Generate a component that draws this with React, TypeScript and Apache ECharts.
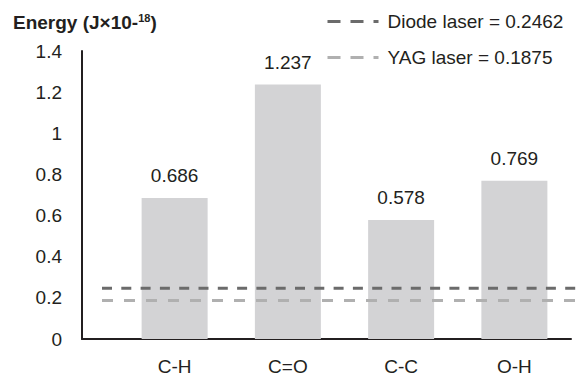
import React, { useEffect, useRef } from "react";
import * as echarts from "echarts";

const categories = ["C-H", "C=O", "C-C", "O-H"];
const energies = [0.686, 1.237, 0.578, 0.769];
const laserNames = ["Diode laser", "YAG laser"];
const laserValues = [0.2462, 0.1875];
const laserColors = ["#6b6b6b", "#b0b0b0"];
const yTicks = { min: 0, max: 1.4, interval: 0.2 };

const FONT = "'Liberation Sans', Arial, Helvetica, sans-serif";
const TEXT = "#231f20";
const FS = 19;

export default function App() {
  const ref = useRef<HTMLDivElement>(null);
  useEffect(() => {
    if (!ref.current) return;
    const chart = echarts.init(ref.current, null, { renderer: "svg" });
    const top = 51;
    const bottom = 40;
    const laserSeries = laserNames.map((n, i) => ({
      name: `${n} = ${laserValues[i]}`,
      type: "line",
      xAxisIndex: 2,
      yAxisIndex: 2,
      symbol: "none",
      silent: true,
      data: [
        [0, laserValues[i]],
        [1, laserValues[i]],
      ],
      lineStyle: {
        color: laserColors[i],
        width: 3,
        type: i === 0 ? [10, 9.3] : [11, 11],
      },
      itemStyle: { color: laserColors[i] },
    }));
    chart.setOption({
      animation: false,
      textStyle: { fontFamily: FONT, color: TEXT },
      title: {
        left: 8,
        top: 7,
        text: "{a|Energy (J×10-}{b|18}{a|)}",
        textStyle: {
          rich: {
            a: { fontSize: 19, fontWeight: "bold", color: TEXT, fontFamily: FONT },
            b: {
              fontSize: 11,
              fontWeight: "bold",
              color: TEXT,
              fontFamily: FONT,
              padding: [0, 0, 10, 0],
            },
          },
        },
      },
      legend: {
        orient: "vertical",
        left: 326,
        top: 12,
        padding: 0,
        itemWidth: 51,
        itemHeight: 14,
        itemGap: 17,
        textStyle: { fontSize: FS, color: TEXT, fontFamily: FONT, padding: [0, 0, 0, 4] },
        data: laserSeries.map((s, i) => ({
          name: s.name,
          itemStyle: { opacity: 0 },
          lineStyle: { type: [13, 10], width: 3, color: laserColors[i] },
        })),
      },
      grid: [
        { left: 82, right: 16, top, bottom },
        { left: 118, right: 16, top, bottom },
        { left: 102, right: 11, top, bottom },
      ],
      xAxis: [
        {
          gridIndex: 0,
          type: "category",
          data: [""],
          axisLine: { show: true, lineStyle: { color: TEXT, width: 2 } },
          axisTick: { show: false },
          axisLabel: { show: false },
        },
        {
          gridIndex: 1,
          type: "category",
          data: categories,
          axisLine: { show: false },
          axisTick: { show: false },
          axisLabel: { fontSize: FS, color: TEXT, margin: 18, fontFamily: FONT },
        },
        {
          gridIndex: 2,
          type: "value",
          min: 0,
          max: 1,
          show: false,
        },
      ],
      yAxis: [
        {
          gridIndex: 0,
          type: "value",
          ...yTicks,
          axisLine: { show: true, lineStyle: { color: TEXT, width: 2 } },
          axisTick: { show: false },
          splitLine: { show: false },
          axisLabel: { fontSize: FS, color: TEXT, margin: 20, fontFamily: FONT },
        },
        { gridIndex: 1, type: "value", ...yTicks, show: false, splitLine: { show: false } },
        { gridIndex: 2, type: "value", ...yTicks, show: false, splitLine: { show: false } },
      ],
      series: [
        {
          type: "bar",
          xAxisIndex: 1,
          yAxisIndex: 1,
          data: energies,
          barWidth: 66,
          itemStyle: { color: "#d3d3d5" },
          silent: true,
          label: {
            show: true,
            position: "top",
            distance: 13,
            fontSize: FS,
            color: TEXT,
            fontFamily: FONT,
          },
        },
        ...laserSeries,
      ],
    });
    return () => chart.dispose();
  }, []);
  return <div ref={ref} style={{ width: 587, height: 379, position: "absolute", left: 0, top: 0 }} />;
}
